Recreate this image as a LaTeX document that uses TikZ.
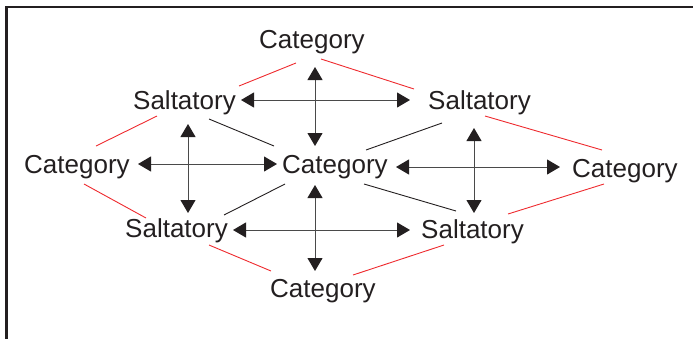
\documentclass[tikz,border=0pt]{standalone}
\usepackage{fontspec}
\setmainfont{Liberation Sans}
\usetikzlibrary{arrows.meta}
\definecolor{ink}{HTML}{231F20}
\definecolor{shaft}{HTML}{4A4A4A}
\definecolor{redln}{HTML}{EE2A2E}
\begin{document}
\begin{tikzpicture}[x=1pt,y=-1pt,
  lbl/.style={anchor=base west,inner sep=0pt,font=\fontsize{26}{26}\selectfont,text=ink},
  dbl/.style={draw=shaft,line width=1pt,{Triangle[length=13pt,width=15pt,fill=ink,color=ink]}-{Triangle[length=13pt,width=15pt,fill=ink,color=ink]}},
  blk/.style={draw=ink,line width=0.9pt},
  rd/.style={draw=redln,line width=0.9pt}]
\useasboundingbox (0,0) rectangle (693,338);
% frame
\draw[ink,line width=2.5pt] (6.5,340) -- (6.5,7) -- (695,7);
% labels
\node[lbl] (ct)  at (259,48)  {Category};
\node[lbl] (stl) at (133,109) {Saltatory};
\node[lbl] (str) at (428,109) {Saltatory};
\node[lbl] (cl)  at (24,173)  {Category};
\node[lbl] (cc)  at (282,173) {Category};
\node[lbl] (cr)  at (572,177) {Category};
\node[lbl] (sbl) at (125,237) {Saltatory};
\node[lbl] (sbr) at (421,238) {Saltatory};
\node[lbl] (cb)  at (270,297) {Category};
% arrows
\draw[dbl] (315,67) -- (315,146);
\draw[dbl] (241,100) -- (410,100);
\draw[dbl] (188,124) -- (188,213);
\draw[dbl] (138,164) -- (277,164);
\draw[dbl] (315,185) -- (315,271);
\draw[dbl] (233,230) -- (410,230);
\draw[dbl] (474,128) -- (474,213);
\draw[dbl] (396,167) -- (560,167);
% black lines
\draw[blk] (209,119) -- (274,146);
\draw[blk] (442,123) -- (366,150);
\draw[blk] (285,184) -- (224,215);
\draw[blk] (364,184) -- (456,211);
% red lines
\draw[rd] (296,63) -- (239,86);
\draw[rd] (321,59) -- (414,89);
\draw[rd] (157,116) -- (96,146);
\draw[rd] (485,116) -- (602,150);
\draw[rd] (84,184) -- (146,218);
\draw[rd] (209,245) -- (271,271);
\draw[rd] (604,184) -- (508,214);
\draw[rd] (444,245) -- (353,275);
\end{tikzpicture}
\end{document}
